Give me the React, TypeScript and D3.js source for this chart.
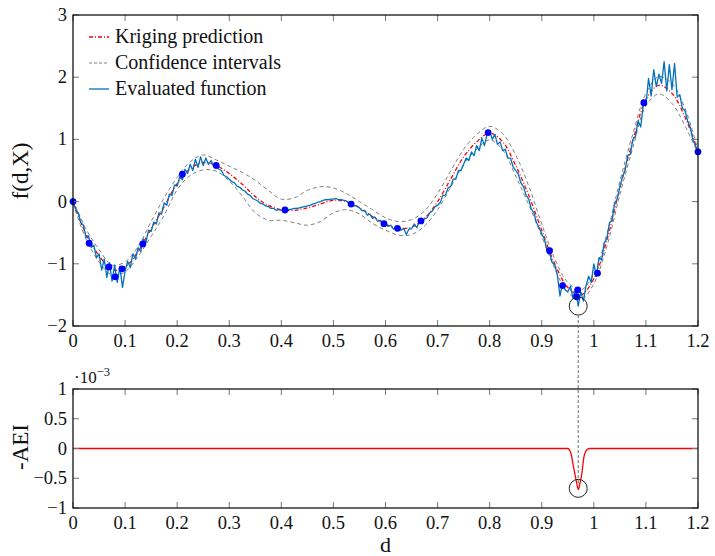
import React from "react";
import * as d3 from "d3";

// ---- data ----
const gridStep = 0.025;
const krigingMean = [
  0, -0.52, -0.87, -1.1, -1.05, -0.8, -0.44, -0.08, 0.29, 0.53, 0.63, 0.58, 0.45, 0.28, 0.08, -0.06, -0.13,
  -0.14, -0.1, -0.04, 0.02, 0.0, -0.1, -0.24, -0.36, -0.43, -0.41, -0.27, 0.0, 0.36, 0.72, 0.96, 1.1, 0.96,
  0.58, 0.1, -0.46, -1.0, -1.38, -1.5, -1.24, -0.62, 0.22, 0.98, 1.64, 1.87, 1.74, 1.36, 0.8,
];
const confUpper = [
  0.03, -0.44, -0.77, -1.02, -0.97, -0.72, -0.32, 0.06, 0.39, 0.64, 0.75, 0.67, 0.57, 0.47, 0.34, 0.18, 0.04,
  0.06, 0.18, 0.24, 0.22, 0.13, 0.0, -0.13, -0.26, -0.32, -0.29, -0.15, 0.13, 0.49, 0.84, 1.08, 1.21, 1.09,
  0.75, 0.25, -0.36, -0.92, -1.3, -1.42, -1.16, -0.52, 0.33, 1.09, 1.74, 2.01, 1.9, 1.5, 0.83,
];
const confLower = [
  -0.03, -0.6, -0.97, -1.18, -1.13, -0.88, -0.56, -0.22, 0.19, 0.42, 0.51, 0.49, 0.33, 0.09, -0.18, -0.3,
  -0.3, -0.34, -0.38, -0.32, -0.18, -0.13, -0.2, -0.35, -0.46, -0.54, -0.53, -0.39, -0.13, 0.23, 0.6, 0.84,
  0.99, 0.83, 0.41, -0.05, -0.56, -1.08, -1.46, -1.58, -1.32, -0.72, 0.11, 0.87, 1.54, 1.73, 1.58, 1.22, 0.77,
];
const evalStep = 0.005;
const evaluated = [
  0, -0.12, -0.18, -0.34, -0.38, -0.58, -0.55, -0.74, -0.7, -0.9,
  -0.84, -1.1, -0.92, -1.22, -0.98, -1.28, -1.02, -1.3, -1.05, -1.38,
  -1.12, -0.96, -1.06, -0.84, -0.92, -0.74, -0.8, -0.6, -0.66, -0.46,
  -0.48, -0.33, -0.36, -0.18, -0.2, -0.02, -0.06, 0.12, 0.1, 0.27,
  0.25, 0.4, 0.35, 0.52, 0.45, 0.6, 0.5, 0.68, 0.55, 0.72,
  0.58, 0.7, 0.6, 0.66, 0.57, 0.6, 0.52, 0.5, 0.42, 0.4,
  0.36, 0.32, 0.3, 0.25, 0.23, 0.19, 0.17, 0.12, 0.1, 0.05,
  0.03, 0.01, -0.03, -0.04, -0.07, -0.08, -0.11, -0.11, -0.14, -0.13,
  -0.14, -0.14, -0.13, -0.13, -0.12, -0.11, -0.11, -0.1, -0.09, -0.08,
  -0.07, -0.06, -0.04, -0.03, -0.01, 0.0, 0.02, 0.03, 0.03, 0.04,
  0.04, 0.05, 0.03, 0.03, 0.02, 0.01, -0.03, -0.03, -0.07, -0.07,
  -0.1, -0.15, -0.14, -0.22, -0.2, -0.27, -0.25, -0.32, -0.3, -0.35,
  -0.36, -0.4, -0.38, -0.44, -0.42, -0.44, -0.46, -0.43, -0.53, -0.44,
  -0.44, -0.36, -0.42, -0.32, -0.33, -0.28, -0.26, -0.18, -0.15, -0.08,
  -0.06, -0.02, 0.1, 0.1, 0.22, 0.24, 0.36, 0.36, 0.5, 0.5,
  0.6, 0.7, 0.66, 0.8, 0.74, 0.9, 0.82, 1.02, 0.9, 1.08,
  1.14, 1.0, 1.08, 0.92, 0.96, 0.82, 0.84, 0.7, 0.7, 0.56,
  0.5, 0.44, 0.3, 0.24, 0.1, 0.04, -0.12, -0.18, -0.34, -0.42,
  -0.52, -0.6, -0.78, -0.82, -0.98, -1.02, -1.18, -1.52, -1.3, -1.42,
  -1.45, -1.36, -1.55, -1.4, -1.68, -1.45, -1.6, -1.35, -1.2, -1.3,
  -1.0, -1.2, -0.9, -0.94, -0.66, -0.6, -0.34, -0.3, -0.02, 0.04,
  0.24, 0.4, 0.5, 0.74, 0.76, 1.0, 1.05, 1.3, 1.2, 1.55,
  1.55, 1.98, 1.7, 2.12, 1.85, 2.05, 1.9, 2.25, 1.78, 2.2,
  1.8, 2.22, 1.68, 1.72, 1.5, 1.46, 1.3, 1.2, 1.0, 0.9,
  0.8,
];
const sampleD = [0, 0.031, 0.069, 0.081, 0.094, 0.134, 0.21, 0.275, 0.407, 0.534, 0.597, 0.623, 0.668, 0.797, 0.915, 0.94, 0.969, 0.967, 1.007, 1.096, 1.2];
const sampleF = [0, -0.67, -1.05, -1.21, -1.08, -0.68, 0.44, 0.58, -0.135, -0.04, -0.355, -0.43, -0.31, 1.11, -0.79, -1.35, -1.42, -1.53, -1.15, 1.59, 0.8];
const aeiD = [0, 0.95, 0.953, 0.956, 0.961, 0.966, 0.9705, 0.9725, 0.977, 0.981, 0.985, 0.989, 0.992, 1.2];
const aeiV = [0, 0, -0.02, -0.08, -0.31, -0.53, -0.69, -0.62, -0.42, -0.14, -0.04, -0.005, 0, 0];
const minD = 0.97;
const minF = -1.68;
const minAei = -0.67;
const xTicks = [0, 0.1, 0.2, 0.3, 0.4, 0.5, 0.6, 0.7, 0.8, 0.9, 1, 1.1, 1.2];
const yTopTicks = [-2, -1, 0, 1, 2, 3];
const yBotTicks = [-1, -0.5, 0, 0.5, 1];
const legendLabels = ["Kriging prediction", "Confidence intervals", "Evaluated function"];

// ---- layout ----
const W = 715, H = 556;
const L = 73, R = 698;
const T1 = 15, B1 = 326, T2 = 389, B2 = 508;
const FONT = "'Liberation Serif', 'Times New Roman', serif";
const BLUE = "#0072BD";

const fmt = (v: number) => {
  const s = String(Math.round(v * 10) / 10);
  return s.startsWith("-") ? "\u2212" + s.slice(1) : s;
};

export default function App() {
  const x = d3.scaleLinear().domain([0, 1.2]).range([L, R]);
  const yT = d3.scaleLinear().domain([-2, 3]).range([B1, T1]);
  const yB = d3.scaleLinear().domain([-1, 1]).range([B2, T2]);

  const gridPts = (arr: number[], step: number) => arr.map((v, i) => [i * step, v] as [number, number]);
  const lineT = d3.line<[number, number]>().x((p) => x(p[0])).y((p) => yT(p[1]));
  const smoothT = d3.line<[number, number]>().x((p) => x(p[0])).y((p) => yT(p[1])).curve(d3.curveCatmullRom);
  const lineB = d3.line<[number, number]>().x((p) => x(p[0])).y((p) => yB(p[1])).curve(d3.curveMonotoneX);

  const tickColor = "#777";
  const tickLen = 6;
  const TICKFS = 18.5;

  const frame = (top: number, bottom: number, yScale: d3.ScaleLinear<number, number>, yTicks: number[], key: string) => (
    <g key={key}>
      {xTicks.map((t) => (
        <g key={"x" + t}>
          <line x1={x(t)} x2={x(t)} y1={bottom} y2={bottom - tickLen} stroke={tickColor} strokeWidth={1} />
          <line x1={x(t)} x2={x(t)} y1={top} y2={top + tickLen} stroke={tickColor} strokeWidth={1} />
          <text x={x(t)} y={bottom + 21} textAnchor="middle" fontSize={TICKFS} fontFamily={FONT} fill="#111">
            {fmt(t)}
          </text>
        </g>
      ))}
      {yTicks.map((t) => (
        <g key={"y" + t}>
          <line x1={L} x2={L + tickLen} y1={yScale(t)} y2={yScale(t)} stroke={tickColor} strokeWidth={1} />
          <line x1={R} x2={R - tickLen} y1={yScale(t)} y2={yScale(t)} stroke={tickColor} strokeWidth={1} />
          <text x={L - 6} y={yScale(t) + 6} textAnchor="end" fontSize={TICKFS} fontFamily={FONT} fill="#111">
            {fmt(t)}
          </text>
        </g>
      ))}
      <rect x={L} y={top} width={R - L} height={bottom - top} fill="none" stroke="#000" strokeWidth={1.2} />
    </g>
  );

  const evalPts = gridPts(evaluated, evalStep);
  const meanPts = gridPts(krigingMean, gridStep);
  const upPts = gridPts(confUpper, gridStep);
  const loPts = gridPts(confLower, gridStep);
  const aeiPts = aeiD.map((d, i) => [d, aeiV[i]] as [number, number]);

  return (
    <svg width={W} height={H} style={{ position: "absolute", left: 0, top: 0, background: "#fff" }}>
      <rect x={0} y={0} width={W} height={H} fill="#fff" />
      <defs>
        <clipPath id="clipTop">
          <rect x={L} y={T1} width={R - L} height={B1 - T1} />
        </clipPath>
        <clipPath id="clipBot">
          <rect x={L} y={T2} width={R - L} height={B2 - T2} />
        </clipPath>
      </defs>

      {/* top plot */}
      <g clipPath="url(#clipTop)">
        <path d={smoothT(upPts) || ""} fill="none" stroke="#808080" strokeWidth={1} strokeDasharray="4,3" />
        <path d={smoothT(loPts) || ""} fill="none" stroke="#808080" strokeWidth={1} strokeDasharray="4,3" />
        <path d={smoothT(meanPts) || ""} fill="none" stroke="#ff0000" strokeWidth={1.3} strokeDasharray="4,2,1,2" />
        <path d={lineT(evalPts) || ""} fill="none" stroke={BLUE} strokeWidth={1.3} strokeLinejoin="round" />
      </g>
      {sampleD.map((d, i) => (
        <circle key={i} cx={x(d)} cy={yT(sampleF[i])} r={3.4} fill="#0000ff" />
      ))}
      <circle cx={x(minD)} cy={yT(minF)} r={9} fill="none" stroke="#222" strokeWidth={1} />
      {frame(T1, B1, yT, yTopTicks, "ftop")}

      {/* legend */}
      {legendLabels.map((lab, i) => {
        const cy = 37 + i * 26;
        return (
          <g key={lab}>
            {i === 0 && <line x1={89} x2={109} y1={cy} y2={cy} stroke="#ff0000" strokeWidth={1.3} strokeDasharray="4,2,1,2" />}
            {i === 1 && <line x1={89} x2={109} y1={cy} y2={cy} stroke="#808080" strokeWidth={1} strokeDasharray="3,2" />}
            {i === 2 && <line x1={89} x2={109} y1={cy} y2={cy} stroke={BLUE} strokeWidth={1.3} />}
            <text x={115} y={cy + 6} fontSize={20} fontFamily={FONT} fill="#111">
              {lab}
            </text>
          </g>
        );
      })}

      {/* connector */}
      <line x1={x(minD)} x2={x(minD)} y1={yT(minF) + 9} y2={yB(minAei) - 4} stroke="#666" strokeWidth={1} strokeDasharray="3,2" />

      {/* bottom plot */}
      <g clipPath="url(#clipBot)">
        <path d={lineB(aeiPts) || ""} fill="none" stroke="#ff0000" strokeWidth={1.3} />
      </g>
      <circle cx={x(minD)} cy={yB(minAei)} r={9} fill="none" stroke="#222" strokeWidth={1} />
      {frame(T2, B2, yB, yBotTicks, "fbot")}

      <text x={74} y={383} fontSize={17} fontFamily={FONT} fill="#111">
        {"\u00b710"}
        <tspan dy={-7} fontSize={12.5}>{"\u22123"}</tspan>
      </text>

      {/* axis labels */}
      <text transform="translate(28,171) rotate(-90)" textAnchor="middle" fontSize={23} fontFamily={FONT} fill="#111">
        f(d,X)
      </text>
      <text transform="translate(28,447) rotate(-90)" textAnchor="middle" fontSize={23} fontFamily={FONT} fill="#111">
        -AEI
      </text>
      <text x={(L + R) / 2} y={552} textAnchor="middle" fontSize={22} fontFamily={FONT} fill="#111">
        d
      </text>
    </svg>
  );
}
